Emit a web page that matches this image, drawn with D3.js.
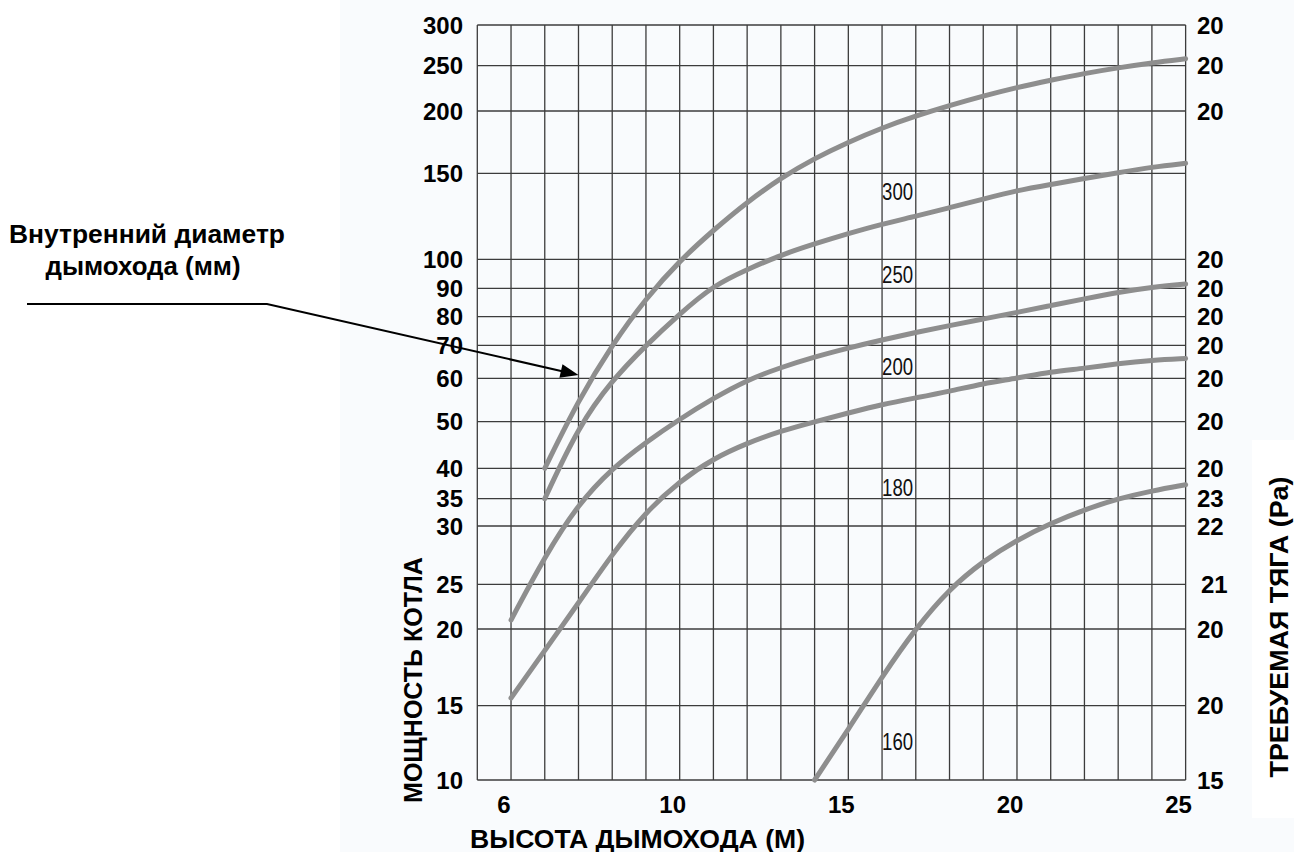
<!DOCTYPE html>
<html>
<head>
<meta charset="utf-8">
<script src="https://cdn.jsdelivr.net/npm/d3@7/dist/d3.min.js"></script>
<style>
  html, body { margin: 0; padding: 0; background: #fff; }
  svg { display: block; font-family: "Liberation Sans", Arial, sans-serif; }
</style>
</head>
<body>
<div id="chart"></div>
<script>
'use strict';

// Data
// ----
var powerTicks = [10, 15, 20, 25, 30, 35, 40, 50, 60, 70, 80, 90, 100, 150, 200, 250, 300]
var draftTicks = ['15', '20', '20', '21', '22', '23', '20', '20', '20', '20', '20', '20', '20', '', '20', '20', '20']
var heightTicks = [6, 10, 15, 20, 25]

var diameters = ['300', '250', '200', '180', '160']

var curveA = [[6.8, 40], [7.6, 55], [8.4, 70.2], [9.2, 86.5], [10, 99.5], [11, 117], [12, 133.3], [13, 147.3], [14, 162],
  [15, 175], [16, 186.5], [17, 196], [18, 206], [19, 216.5], [20, 226], [21, 234], [22, 241.5], [23, 247.7], [24, 253.6], [25, 258.5]]
var curveB = [[6.8, 35], [7.6, 49], [8.4, 59.6], [9.2, 70], [10, 81], [11, 91], [12, 96.5], [13, 102.5], [14, 109],
  [15, 115], [16, 120.5], [17, 125], [18, 130], [19, 135], [20, 140], [21, 143.5], [22, 147], [23, 150.5], [24, 155], [25, 158]]
var curveC = [[6, 21], [6.8, 27.4], [7.6, 34.1], [8.4, 40], [9.2, 45.6], [10, 50.6], [11, 55.4], [12, 59.6], [13, 63.3],
  [14, 66.5], [15, 69.2], [16, 71.9], [17, 74.5], [18, 76.9], [19, 79.2], [20, 81.5], [21, 83.9], [22, 86.3], [23, 88.6], [24, 90.4], [25, 91.5]]
var curveD = [[6, 15.5], [6.8, 18.6], [7.6, 22.9], [8.4, 27.6], [9.2, 32.6], [10, 37.9], [11, 42.1], [12, 45.4], [13, 48],
  [14, 50], [15, 52], [16, 54], [17, 55.5], [18, 57], [19, 58.8], [20, 60], [21, 62], [22, 63], [23, 64.5], [24, 65.5], [25, 66]]
var curveE = [[14, 10], [15, 13.4], [16, 16.9], [17, 20.1], [18, 24.5], [19, 27], [20, 28.8], [21, 30.5], [22, 33],
  [23, 35], [24, 36.3], [25, 37.3]]

// where the diameter numbers sit (height, power)
var diameterLabelAt = [[16, 134.5], [16, 92], [16, 61], [16, 35.4], [16, 12]]
var arrowTip = [7.6, 61]

// Layout
// ------
var W = 1294, H = 852
var plotLeft = 477.3, plotTop = 25
var cell = 33.73
var plotW = cell * 21, plotH = 755

// chart's own uneven power grid (offsets from the top of the plot)
var powerOffsets = [755, 680.7, 604, 559.3, 501, 473.7, 443.3, 396.7, 353.3, 320.3, 291.7, 263.3, 234.3, 148.3, 86, 40.7, 0]

var x = d3.scaleLinear()
  .domain([5.2, 10, 25])
  .range([plotLeft, plotLeft + 6 * cell, plotLeft + 21 * cell])

var y = d3.scaleLinear()
  .domain(powerTicks)
  .range(powerOffsets.map(function(o){ return plotTop + o }))

var gridX = d3.range(22).map(function(i){ return i < 6 ? 5.2 + 0.8 * i : 10 + (i - 6) })

var svg = d3.select('#chart').append('svg')
  .attr('width', W)
  .attr('height', H)

// backgrounds
svg.append('rect').attr('x', 0).attr('y', 0).attr('width', W).attr('height', H).attr('fill', '#fff')
svg.append('rect').attr('x', 340).attr('y', 0).attr('width', W - 340).attr('height', H).attr('fill', '#f9fbfd')
svg.append('rect').attr('x', 1252).attr('y', 440).attr('width', W - 1252).attr('height', 378).attr('fill', '#fff')

// Grid
// ----
svg.selectAll('line.h')
    .data(powerTicks)
  .enter().append('line')
    .attr('class', 'h')
    .attr('x1', plotLeft)
    .attr('x2', plotLeft + plotW)
    .attr('y1', function(d){ return y(d) })
    .attr('y2', function(d){ return y(d) })
    .style('stroke', '#3c3c3c')
    .style('stroke-width', 1.3)

svg.selectAll('line.v')
    .data(gridX)
  .enter().append('line')
    .attr('class', 'v')
    .attr('x1', function(d){ return x(d) })
    .attr('x2', function(d){ return x(d) })
    .attr('y1', plotTop)
    .attr('y2', plotTop + plotH)
    .style('stroke', '#3c3c3c')
    .style('stroke-width', 1.3)

// Curves
// ------
var line = d3.line()
  .x(function(d){ return x(d[0]) })
  .y(function(d){ return y(d[1]) })
  .curve(d3.curveBasis)

svg.selectAll('path.curve')
    .data([curveA, curveB, curveC, curveD, curveE])
  .enter().append('path')
    .attr('class', 'curve')
    .attr('d', line)
    .style('fill', 'none')
    .style('stroke', '#8e8e8e')
    .style('stroke-width', 5)
    .style('stroke-linecap', 'round')

svg.selectAll('text.dia')
    .data(diameters)
  .enter().append('text')
    .attr('class', 'dia')
    .attr('x', function(d, i){ return x(diameterLabelAt[i][0]) })
    .attr('y', function(d, i){ return y(diameterLabelAt[i][1]) })
    .attr('textLength', 31)
    .attr('lengthAdjust', 'spacingAndGlyphs')
    .style('font-size', '24px')
    .style('fill', '#111')
    .text(function(d){ return d })

// Axes labels
// -----------
svg.selectAll('text.yl')
    .data(powerTicks)
  .enter().append('text')
    .attr('class', 'yl')
    .attr('x', 463)
    .attr('y', function(d){ return y(d) })
    .attr('dy', '0.36em')
    .attr('text-anchor', 'end')
    .style('font-size', '24px')
    .style('font-weight', 'bold')
    .text(function(d){ return d })

svg.selectAll('text.yr')
    .data(draftTicks)
  .enter().append('text')
    .attr('class', 'yr')
    .attr('x', function(d){ return d === '21' ? 1201 : 1197 })
    .attr('y', function(d, i){ return y(powerTicks[i]) })
    .attr('dy', '0.36em')
    .style('font-size', '24px')
    .style('font-weight', 'bold')
    .text(function(d){ return d })

svg.selectAll('text.xl')
    .data(heightTicks)
  .enter().append('text')
    .attr('class', 'xl')
    .attr('x', function(d){ return x(d) - 7 })
    .attr('y', 813)
    .attr('text-anchor', 'middle')
    .style('font-size', '24px')
    .style('font-weight', 'bold')
    .text(function(d){ return d })

svg.append('text')
  .attr('x', 470)
  .attr('y', 848)
  .attr('textLength', 335)
  .attr('lengthAdjust', 'spacingAndGlyphs')
  .style('font-size', '25px')
  .style('font-weight', 'bold')
  .text('ВЫСОТА ДЫМОХОДА (М)')

svg.append('text')
  .attr('transform', 'translate(421.5,680) rotate(-90)')
  .attr('text-anchor', 'middle')
  .style('font-size', '25px')
  .style('font-weight', 'bold')
  .text('МОЩНОСТЬ КОТЛА')

svg.append('text')
  .attr('transform', 'translate(1288,627) rotate(-90)')
  .attr('text-anchor', 'middle')
  .attr('textLength', 301)
  .attr('lengthAdjust', 'spacingAndGlyphs')
  .style('font-size', '25px')
  .style('font-weight', 'bold')
  .text('ТРЕБУЕМАЯ ТЯГА (Pa)')

// Annotation
// ----------
var note = svg.append('text')
  .attr('text-anchor', 'middle')
  .style('font-size', '25px')
  .style('font-weight', 'bold')
note.append('tspan').attr('x', 147).attr('y', 243)
  .attr('textLength', 276).attr('lengthAdjust', 'spacingAndGlyphs')
  .text('Внутренний диаметр')
note.append('tspan').attr('x', 143).attr('y', 275)
  .attr('textLength', 195).attr('lengthAdjust', 'spacingAndGlyphs')
  .text('дымохода (мм)')

var tx = x(arrowTip[0]), ty = y(arrowTip[1])
var kx = 267, ky = 304
svg.append('path')
  .attr('d', 'M27,' + ky + 'L' + kx + ',' + ky + 'L' + (tx - 12) + ',' + (ty - 2.8))
  .style('fill', 'none')
  .style('stroke', '#000')
  .style('stroke-width', 2)

var ang = Math.atan2(ty - ky, tx - kx) * 180 / Math.PI
svg.append('path')
  .attr('d', 'M0,0L-18,-7L-18,7Z')
  .attr('transform', 'translate(' + tx + ',' + ty + ') rotate(' + ang + ')')
  .style('fill', '#000')
</script>
</body>
</html>
